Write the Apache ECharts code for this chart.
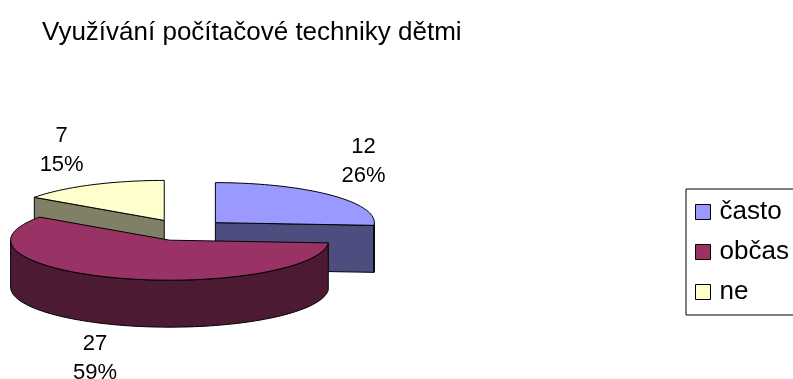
<!DOCTYPE html>
<html><head><meta charset="utf-8">
<script src="https://cdn.jsdelivr.net/npm/echarts@6/dist/echarts.min.js"></script>
<style>html,body{margin:0;padding:0;background:#fff}#c{width:793px;height:379px}</style>
</head><body><div id="c"></div>
<script>
const chartTitle = 'Využívání počítačové techniky dětmi';
const categories = ['často', 'občas', 'ne'];
const values = [12, 27, 7];
const topColors = ['#9999FF', '#993366', '#FFFFCC'];
const sideColors = ['#4D4D80', '#4D1A33', '#808066'];
const drawOrder = [2, 0, 1]; // back to front

const FONT = '"Liberation Sans", Arial, sans-serif';
const total = values.reduce((a, b) => a + b, 0);
const starts = [], ends = [];
let acc = 0;
values.forEach(v => { starts.push(acc / total * 360); acc += v; ends.push(acc / total * 360); });
const pct = values.map(v => Math.round(v / total * 100) + '%');

const geo = { cx: 184, cy: 230, rx: 159, ry: 40, depth: 47, explode: 0.27 };
const rad = d => d * Math.PI / 180;

function makeRender(i) {
  return function (params, api) {
    const s = starts[i], e = ends[i], m = (s + e) / 2;
    const ax = geo.cx + geo.explode * geo.rx * Math.sin(rad(m));
    const ay = geo.cy - geo.explode * geo.ry * Math.cos(rad(m));
    const D = geo.depth;
    const P = (t, dy = 0) => [ax + geo.rx * Math.sin(rad(t)), ay - geo.ry * Math.cos(rad(t)) + dy];
    const arc = (a, b, dy = 0) => {
      const pts = []; const n = Math.max(2, Math.ceil(Math.abs(b - a) / 2));
      for (let k = 0; k <= n; k++) pts.push(P(a + (b - a) * k / n, dy));
      return pts;
    };
    const st = fill => ({ fill, stroke: '#000', lineWidth: 1, lineJoin: 'round' });
    const children = [];
    if (Math.sin(rad(s)) < -1e-6)
      children.push({ type: 'polygon', shape: { points: [[ax, ay], P(s), P(s, D), [ax, ay + D]] }, style: st(sideColors[i]) });
    if (Math.sin(rad(e)) > 1e-6)
      children.push({ type: 'polygon', shape: { points: [[ax, ay], P(e), P(e, D), [ax, ay + D]] }, style: st(sideColors[i]) });
    const a = Math.max(s, 90), b = Math.min(e, 270);
    if (b > a)
      children.push({ type: 'polygon', shape: { points: arc(a, b).concat(arc(b, a, D)) }, style: st(sideColors[i]) });
    children.push({ type: 'polygon', shape: { points: [[ax, ay]].concat(arc(s, e)) }, style: st(topColors[i]) });
    // label
    const sm = Math.sin(rad(m)), cm = Math.cos(rad(m));
    const rim = P(m, cm < 0 ? D : 0);
    const lx = rim[0] + 32 * sm / Math.max(Math.abs(sm), 0.5);
    const ly = rim[1] - 34 * cm / Math.max(Math.abs(cm), 0.5);
    children.push({
      type: 'text',
      style: {
        text: values[i] + '\n' + pct[i], x: lx, y: ly, align: 'center', verticalAlign: 'middle',
        fontSize: 22, fontFamily: FONT, fill: '#000', lineHeight: 29
      }
    });
    return { type: 'group', children };
  };
}

const series = drawOrder.map((i, k) => ({
  type: 'custom',
  name: categories[i],
  coordinateSystem: 'none',
  z: k + 1,
  itemStyle: { color: topColors[i] },
  data: [[values[i]]],
  renderItem: makeRender(i)
}));

const chart = echarts.init(document.getElementById('c'));
chart.setOption({
  animation: false,
  backgroundColor: '#fff',
  title: {
    text: chartTitle, left: 37, top: 15,
    textStyle: { fontSize: 26, fontWeight: 'normal', color: '#000', fontFamily: FONT }
  },
  legend: {
    data: categories, orient: 'vertical', left: 686, top: 189,
    padding: [10, 60, 10, 9], itemGap: 14, itemWidth: 15, itemHeight: 15,
    icon: 'rect', borderColor: '#000', borderWidth: 1,
    itemStyle: { borderColor: '#000', borderWidth: 1 },
    textStyle: { fontSize: 26, fontFamily: FONT, color: '#000', lineHeight: 26, padding: [0, 0, 0, 4] }
  },
  series
});
</script>
</body></html>
